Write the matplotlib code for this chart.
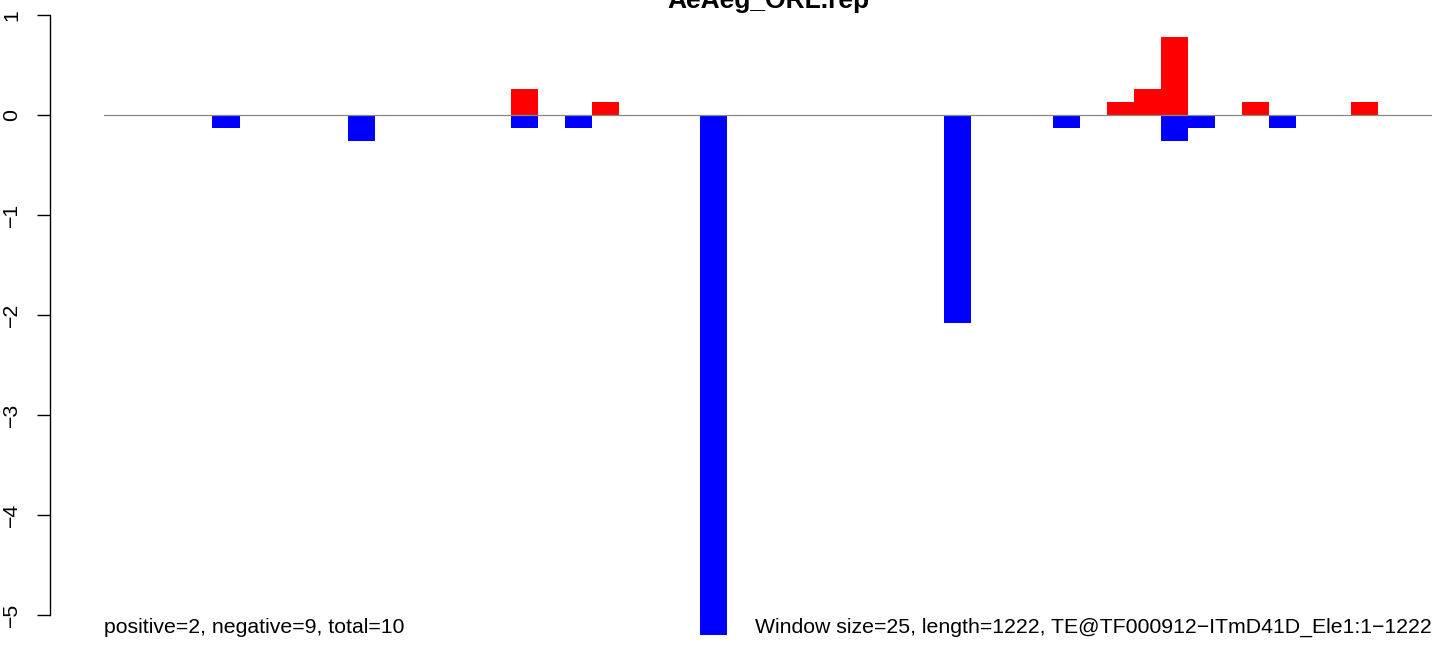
import numpy as np
import matplotlib
matplotlib.use('Agg')
import matplotlib.pyplot as plt

# --- Data: 49 windows of 25 bp along a 1222 bp element

n_windows = 49
pos = [0, 0, 0, 0, 0, 0, 0, 0, 0, 0,
       0, 0, 0, 0, 0, 0.26, 0, 0, 0.13, 0,
       0, 0, 0, 0, 0, 0, 0, 0, 0, 0,
       0, 0, 0, 0, 0, 0, 0, 0.13, 0.26, 0.78,
       0, 0, 0.13, 0, 0, 0, 0.13, 0, 0]
neg = [0, 0, 0, 0, -0.13, 0, 0, 0, 0, -0.26,
       0, 0, 0, 0, 0, -0.13, 0, -0.13, 0, 0,
       0, 0, -5.2, 0, 0, 0, 0, 0, 0, 0,
       0, -2.08, 0, 0, 0, -0.13, 0, 0, 0, -0.26,
       -0.13, 0, 0, -0.13, 0, 0, 0, 0, 0]

title = 'AeAeg_ORL.rep'
left_note = 'positive=2, negative=9, total=10'
right_note = 'Window size=25, length=1222, TE@TF000912\u2212ITmD41D_Ele1:1\u22121222'
yticks = [-5, -4, -3, -2, -1, 0, 1]

# --- Plotting

plt.rcParams['font.family'] = ['Liberation Sans', 'DejaVu Sans']

W, H = 1444, 646
fig = plt.figure(figsize=(W / 100, H / 100), dpi=100)
ax = fig.add_axes([104 / W, 0, 1328 / W, 1])

x = np.arange(n_windows)
ax.bar(x, pos, width=1, align='edge', color='red', linewidth=0)
ax.bar(x, neg, width=1, align='edge', color='blue', linewidth=0)
ax.axhline(0, color='#888888', linewidth=0.9, zorder=5)

ax.set_xlim(0, n_windows)
ax.set_ylim(1.15 - H / 100, 1.15)

for s in ['top', 'right', 'bottom']:
    ax.spines[s].set_visible(False)
ax.spines['left'].set_position(('outward', 54 * 0.72))
ax.spines['left'].set_bounds(-5, 1)
ax.spines['left'].set_linewidth(1.0)
ax.set_xticks([])
ax.set_yticks(yticks)
ax.set_yticklabels([str(v).replace('-', '\u2212') for v in yticks])
ax.tick_params(axis='y', length=13 * 0.72, width=1.0, pad=16 * 0.72,
               labelsize=15.3, labelrotation=90)
for lab in ax.get_yticklabels():
    lab.set_va('center')

fig.text(768 / W, 1 - 8 / H, title, ha='center', va='baseline',
         fontsize=19, fontweight='bold')
fig.text(104 / W, 1 - 633 / H, left_note, ha='left', va='baseline', fontsize=15.3)
fig.text(1432 / W, 1 - 633 / H, right_note, ha='right', va='baseline', fontsize=15.3)

fig.savefig('out.png', dpi=100)
